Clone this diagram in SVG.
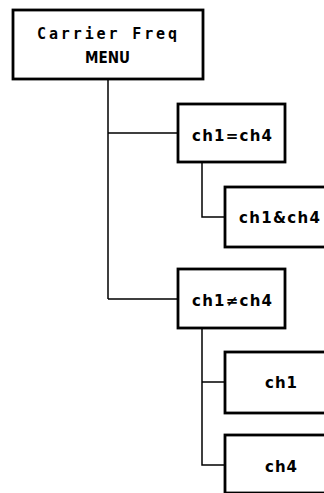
<svg xmlns="http://www.w3.org/2000/svg" width="324" height="493" viewBox="0 0 324 493">
<style>
.box{fill:#fff;stroke:#000;stroke-width:2.8}
.lbl{font-family:"DejaVu Sans","Liberation Sans",sans-serif;font-size:15px;font-weight:bold;fill:#000}
.title{font-family:"DejaVu Sans Mono","Liberation Mono",monospace;font-size:15px}
.conn{fill:none;stroke:#000;stroke-width:1.5}
</style>
<rect width="324" height="493" fill="#fff"/>
<g id="connectors">
<path class="conn" d="M108,79 V299 M108,133 H178 M108,299 H178"/>
<path class="conn" d="M202,162 V217 H225"/>
<path class="conn" d="M202,328 V465 H225 M202,382 H225"/>
</g>
<g id="node-menu">
<rect class="box" x="13" y="10" width="190" height="69"/>
<text class="lbl title" x="37" y="39" textLength="140" lengthAdjust="spacing">Carrier Freq</text>
<text class="lbl" x="85" y="63" textLength="45" lengthAdjust="spacingAndGlyphs">MENU</text>
</g>
<g id="node-ch1eqch4">
<rect class="box" x="178" y="104" width="107" height="58"/>
<text class="lbl" x="192" y="141" textLength="80" lengthAdjust="spacing">ch1=ch4</text>
</g>
<g id="node-ch1andch4">
<rect class="box" x="225" y="187" width="120" height="60"/>
<text class="lbl" x="239" y="223" textLength="81" lengthAdjust="spacing">ch1&amp;ch4</text>
</g>
<g id="node-ch1nech4">
<rect class="box" x="178" y="269" width="107" height="59"/>
<text class="lbl" x="192" y="306" textLength="80" lengthAdjust="spacing">ch1≠ch4</text>
</g>
<g id="node-ch1">
<rect class="box" x="225" y="352" width="120" height="61"/>
<text class="lbl" x="265" y="388" textLength="32" lengthAdjust="spacing">ch1</text>
</g>
<g id="node-ch4">
<rect class="box" x="225" y="435" width="120" height="58"/>
<text class="lbl" x="265" y="472" textLength="32" lengthAdjust="spacing">ch4</text>
</g>
</svg>
